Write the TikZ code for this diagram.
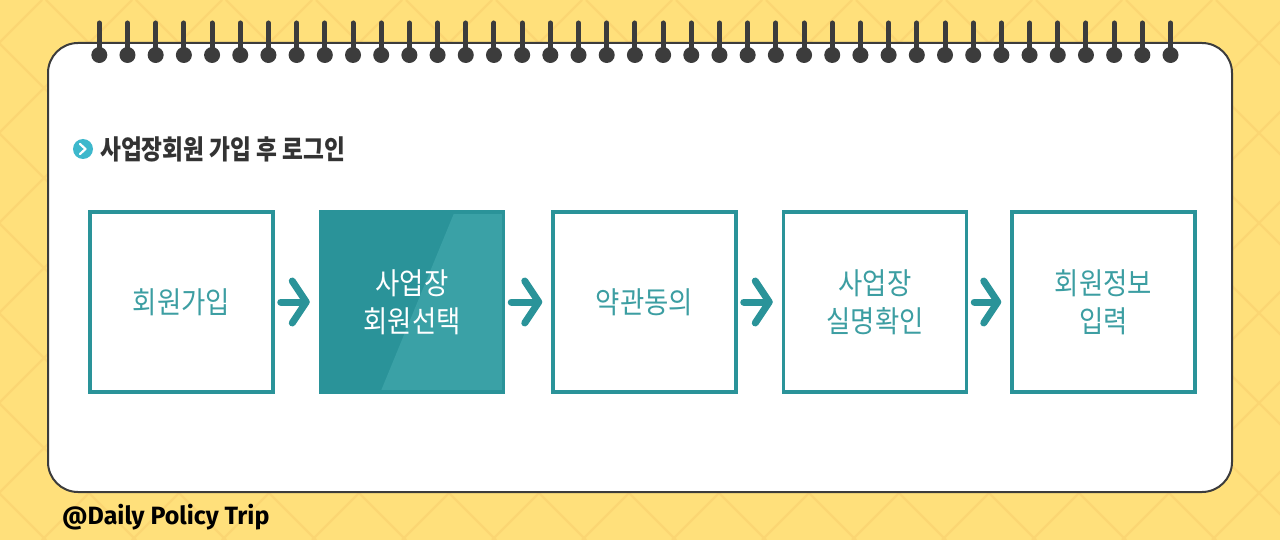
\documentclass[tikz,border=0pt]{standalone}
\usepackage{fontspec}
\usepackage{xcolor}
\usepackage{tikz}
\usetikzlibrary{positioning,calc,arrows.meta}
\newfontfamily\krfont[FakeStretch=0.88]{Noto Sans CJK KR}
\newfontfamily\krhead[FakeStretch=0.84]{Noto Sans CJK KR}
\newfontfamily\tagfont{Fira Sans}
\definecolor{paper}{HTML}{FFE07B}
\definecolor{lattice}{HTML}{FBD673}
\definecolor{ink}{HTML}{3C3C3C}
\definecolor{tealc}{HTML}{2A9399}
\definecolor{teallight}{HTML}{3AA1A6}
\definecolor{tealtext}{HTML}{3C9EA2}
\definecolor{cyanicon}{HTML}{3DB8CC}
\definecolor{headink}{HTML}{333333}

\tikzset{
  stepbox/.style={draw=tealc, line width=3.5pt, minimum width=183pt, minimum height=180pt,
    inner sep=0pt, align=center, text=tealtext, font=\krfont\fontsize{30}{38}\selectfont},
  flow/.style={draw=tealc, line width=7pt, line cap=round,
    -{Straight Barb[length=14pt,width=42pt,round]}, shorten <=6pt, shorten >=9pt},
  ring/.style={ink, line width=5pt, line cap=round}
}

\begin{document}
\begin{tikzpicture}[x=1pt,y=-1pt]
    \useasboundingbox (0,0) rectangle (1280,540);
    % yellow backdrop with lattice
    \fill[paper] (0,0) rectangle (1280,540);
    \begin{scope}
      \clip (0,0) rectangle (1280,540);
      \foreach \k in {0,...,20} \draw[lattice, line width=2.2pt] (42+90*\k,0) -- ++(-540,540);
      \foreach \k in {-6,...,13} \draw[lattice, line width=2.2pt] (46+90*\k,0) -- ++(540,540);
    \end{scope}

    % notebook card
    \draw[ink, line width=2pt, fill=white, rounded corners=30pt] (48,43) rectangle (1232,492);
    % spiral rings
    \foreach \i in {0,...,38} {
      \draw[ring] (99.3+28.19*\i,23) -- (99.3+28.19*\i,55);
      \fill[ink] (99.3+28.19*\i,55) circle (8pt);
    }

    % heading
    \node[circle, fill=cyanicon, minimum size=20pt, inner sep=0pt] (icon) at (83,149) {};
    \draw[white, line width=2.2pt, line cap=round, line join=round]
      ($(icon)+(-3,-5)$) -- ($(icon)+(2.5,0)$) -- ($(icon)+(-3,5)$);
    \node[anchor=west, inner sep=0pt, text=headink, font=\krhead\bfseries\fontsize{27}{30}\selectfont]
      (title) at (100,149) {사업장회원 가입 후 로그인};

    % steps
    \node[stepbox] (join) at (181.5,302) {회원가입};
    \node[stepbox, right=44pt of join, fill=tealc, text=white,
      path picture={\fill[teallight]
        ($(path picture bounding box.north east)+(-49,0)$) --
        ($(path picture bounding box.south east)+(-123,0)$) --
        (path picture bounding box.south east) --
        (path picture bounding box.north east) -- cycle;}] (select) {사업장\\회원선택};
    \node[stepbox, right=46pt of select] (terms) {약관동의};
    \node[stepbox, right=44pt of terms] (verify) {사업장\\실명확인};
    \node[stepbox, right=42pt of verify] (info) {회원정보\\입력};

    \draw[flow] (join.east) -- (select.west);
    \draw[flow] (select.east) -- (terms.west);
    \draw[flow] (terms.east) -- (verify.west);
    \draw[flow] (verify.east) -- (info.west);

    % footer tag
    \node[anchor=west, inner sep=0pt, font=\tagfont\bfseries\fontsize{25}{28}\selectfont] (tag) at (62,517) {@Daily Policy Trip};
\end{tikzpicture}
\end{document}
